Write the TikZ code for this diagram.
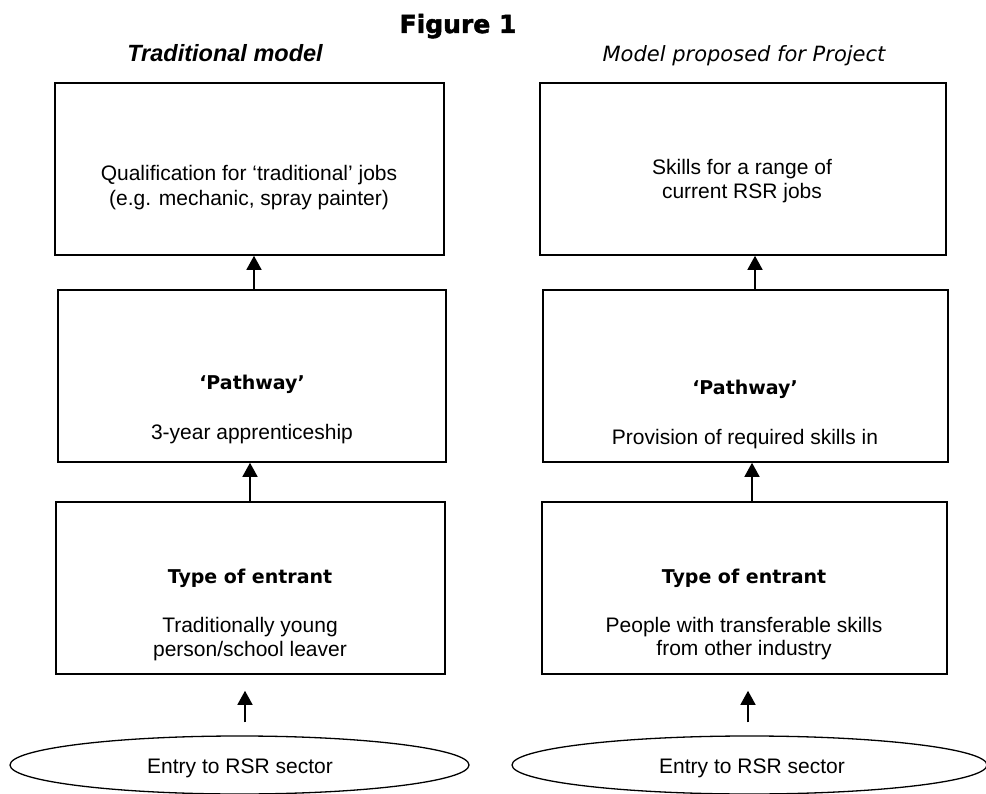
\documentclass[tikz,border=0pt]{standalone}
\usepackage{fontspec}
\setmainfont{Liberation Sans}
\newfontfamily\verd{DejaVu Sans}
\newfontfamily\figfont[BoldFeatures={FakeBold=2}]{DejaVu Sans}
\usetikzlibrary{arrows.meta,shapes.geometric}
\tikzset{
  box/.style={draw=black, line width=1.6pt, minimum width=#1, minimum height=172pt, inner sep=0pt},
  oval/.style={draw=black, line width=1.3pt, ellipse, inner sep=0pt},
  arr/.style={line width=1.5pt, -{Triangle[length=14pt,width=15pt]}},
  body/.style={anchor=base, font=\fontsize{21}{25}\selectfont, inner sep=0pt},
  bhead/.style={anchor=base, font=\verd\bfseries\fontsize{19}{23}\selectfont, inner sep=0pt},
}
\begin{document}
\begin{tikzpicture}[x=1pt,y=-1pt]
\useasboundingbox (0,0) rectangle (986,794);
\begin{scope}
\clip (0,0) rectangle (986,794);
% titles
\node[anchor=base, inner sep=0pt, font=\figfont\bfseries\fontsize{25}{28}\selectfont] (fig) at (458,33) {Figure 1};
\node[anchor=base, inner sep=0pt, font=\bfseries\itshape\fontsize{23.5}{27}\selectfont] (tl) at (225,62) {Traditional model};
\node[anchor=base, inner sep=0pt, font=\verd\itshape\fontsize{21}{25}\selectfont] (tr) at (744,62) {Model proposed for Project};
% left column
\node[box=389pt] (q1) at (249.5,169) {};
\node[box=388pt] (p1) at (252,376) {};
\node[box=389pt] (t1) at (250.5,588) {};
\node[oval, minimum width=459pt, minimum height=58pt] (e1) at (239.5,765) {};
% right column
\node[box=406pt] (q2) at (743,169) {};
\node[box=405pt] (p2) at (745.5,376) {};
\node[box=405pt] (t2) at (744.5,588) {};
\node[oval, minimum width=475pt, minimum height=58pt] (e2) at (749.5,765) {};
% texts left
\node[body] (q1a) at (249,181) {Qualification for ‘traditional’ jobs};
\node[body] (q1b) at (249,206) {(e.g. mechanic, spray painter)};
\node[bhead] (p1a) at (252,390) {‘Pathway’};
\node[body] (p1b) at (252,439) {3-year apprenticeship};
\node[bhead] (t1a) at (250,583) {Type of entrant};
\node[body] (t1b) at (250,632) {Traditionally young};
\node[body] (t1c) at (250,656) {person/school leaver};
\node[body] (e1a) at (240,773) {Entry to RSR sector};
% texts right
\node[body] (q2a) at (742,175) {Skills for a range of};
\node[body] (q2b) at (742,199) {current RSR jobs};
\node[bhead] (p2a) at (745,395) {‘Pathway’};
\node[body] (p2b) at (745,445) {Provision of required skills in};
\node[bhead] (t2a) at (744,583) {Type of entrant};
\node[body] (t2b) at (744,632) {People with transferable skills};
\node[body] (t2c) at (744,655) {from other industry};
\node[body] (e2a) at (752,773) {Entry to RSR sector};
% arrows
\draw[arr] (p1.north -| 254,0) -- (q1.south -| 254,0);
\draw[arr] (t1.north -| 250,0) -- (p1.south -| 250,0);
\draw[arr, shorten <=13pt, shorten >=16pt] (e1.north -| 245,0) -- (t1.south -| 245,0);
\draw[arr] (p2.north -| 755,0) -- (q2.south -| 755,0);
\draw[arr] (t2.north -| 752,0) -- (p2.south -| 752,0);
\draw[arr, shorten <=13pt, shorten >=16pt] (e2.north -| 748,0) -- (t2.south -| 748,0);
\end{scope}
\end{tikzpicture}
\end{document}
